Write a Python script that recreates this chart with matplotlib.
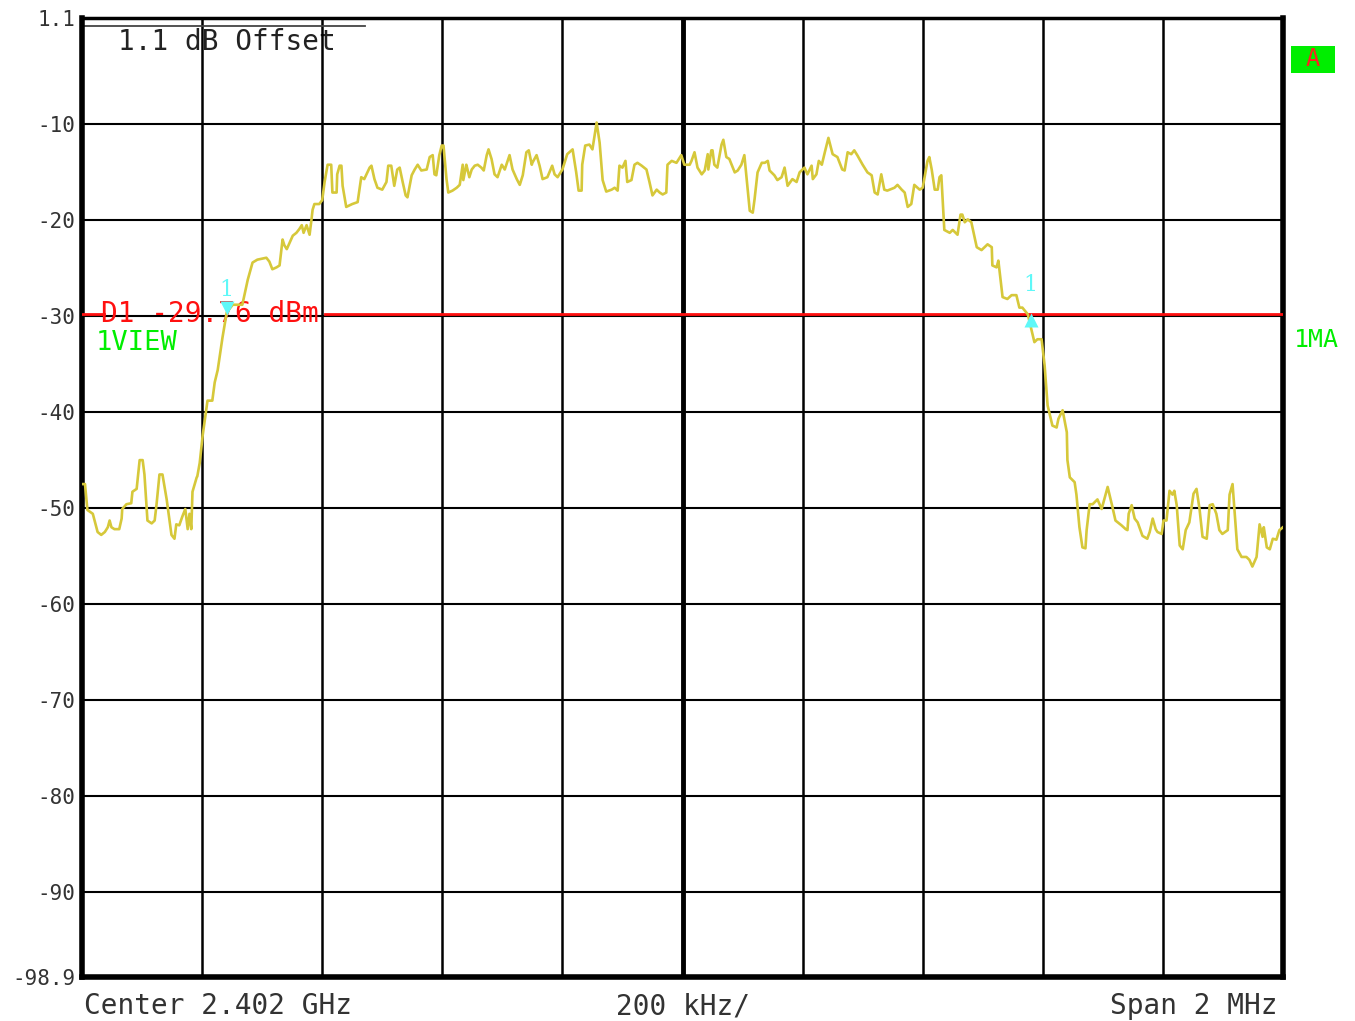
import matplotlib
matplotlib.use("Agg")
import matplotlib.pyplot as plt
from matplotlib.patches import Rectangle

# Spectrum trace: offset from center (kHz) and level (dBm)
freq_khz = [
    -999, -995, -991, -982, -974, -968, -962, -957, -954, -951, -946, -938, -934, -933,
    -926, -918, -916, -909, -904, -899, -896, -891, -884, -879, -876, -871, -866, -859,
    -851, -846, -843, -838, -833, -828, -824, -821, -818, -816, -809, -808, -804, -799,
    -793, -791, -783, -779, -774, -766, -759, -749, -733, -724, -716, -708, -693, -688,
    -683, -676, -671, -666, -663, -659, -654, -649, -643, -638, -634, -631, -626, -621,
    -618, -616, -613, -605, -600, -596, -591, -585, -583, -576, -575, -571, -568, -566,
    -560, -550, -541, -535, -530, -521, -518, -513, -508, -500, -493, -490, -485, -480,
    -475, -471, -466, -461, -458, -451, -446, -441, -435, -426, -421, -416, -413, -410,
    -405, -401, -398, -393, -390, -383, -376, -371, -366, -365, -360, -358, -355, -351,
    -346, -341, -335, -331, -326, -323, -318, -313, -308, -301, -296, -288, -283, -276,
    -271, -266, -260, -256, -251, -250, -243, -238, -233, -225, -217, -213, -208, -200,
    -192, -183, -177, -173, -168, -167, -162, -155, -150, -143, -138, -133, -127, -118,
    -113, -108, -105, -100, -95, -92, -85, -80, -75, -68, -60, -55, -50, -43, -38, -33,
    -27, -25, -18, -10, -2, 3, 12, 15, 20, 25, 32, 37, 42, 43, 48, 50, 53, 58, 65, 68,
    73, 78, 87, 92, 98, 103, 112, 117, 120, 125, 132, 137, 142, 145, 153, 158, 165, 170,
    175, 183, 190, 195, 203, 208, 215, 217, 223, 227, 232, 237, 243, 250, 258, 266, 270,
    275, 281, 286, 291, 300, 308, 315, 320, 325, 331, 336, 341, 353, 358, 365, 370, 375,
    381, 386, 395, 400, 408, 411, 415, 420, 425, 428, 431, 436, 445, 450, 458, 463, 466,
    470, 475, 481, 490, 498, 508, 515, 516, 523, 526, 533, 541, 548, 556, 561, 566, 575,
    581, 586, 591, 598, 603, 608, 616, 623, 626, 633, 640, 641, 645, 653, 656, 661, 666,
    671, 673, 678, 683, 691, 698, 708, 716, 721, 731, 738, 741, 743, 748, 753, 758, 766,
    774, 778, 783, 788, 791, 798, 801, 806, 811, 816, 819, 823, 828, 833, 838, 844, 851,
    856, 861, 866, 873, 878, 883, 889, 894, 899, 908, 911, 916, 924, 931, 939, 944, 949,
    956, 961, 966, 968, 973, 978, 983, 989, 994, 1000,
]
level_dbm = [
    -47.5, -47.5, -50.2, -50.6, -52.5, -52.8, -52.5, -52.0, -51.3, -52.0, -52.2, -52.2, -51.1, -50.1,
    -49.6, -49.5, -48.3, -48.0, -45.0, -45.0, -46.5, -51.3, -51.6, -51.3, -49.7, -46.5, -46.5, -49.1,
    -52.8, -53.2, -51.7, -51.8, -50.9, -50.1, -52.2, -50.6, -52.2, -48.3, -46.8, -46.7, -45.3, -42.4,
    -39.7, -38.8, -38.8, -36.9, -35.6, -32.2, -29.6, -28.8, -28.8, -26.2, -24.4, -24.1, -23.9, -24.3,
    -25.1, -24.9, -24.7, -22.0, -22.6, -23.0, -22.3, -21.6, -21.3, -20.9, -20.5, -21.3, -20.5, -21.5,
    -20.0, -18.9, -18.3, -18.3, -17.9, -16.0, -14.2, -14.2, -17.1, -17.1, -15.2, -14.3, -14.3, -16.4,
    -18.6, -18.3, -18.1, -15.5, -15.7, -14.5, -14.3, -15.7, -16.6, -16.8, -16.0, -14.3, -14.3, -16.4,
    -14.7, -14.5, -16.0, -17.4, -17.6, -15.3, -14.7, -14.2, -14.8, -14.7, -13.4, -13.2, -15.2, -15.3,
    -13.2, -12.2, -12.2, -15.7, -17.1, -16.9, -16.6, -16.3, -14.2, -15.8, -14.2, -14.7, -15.5, -14.7,
    -14.3, -14.2, -14.5, -14.8, -13.2, -12.6, -13.6, -15.2, -15.5, -14.2, -14.7, -13.2, -14.7, -15.7,
    -16.3, -15.3, -12.9, -12.7, -14.2, -14.0, -13.2, -14.3, -15.7, -15.5, -14.3, -15.2, -15.5, -14.7,
    -13.1, -12.6, -15.0, -16.9, -16.9, -14.2, -12.2, -12.1, -12.6, -9.8, -11.9, -15.8, -17.0, -16.8,
    -16.6, -16.9, -14.3, -14.5, -13.8, -16.0, -15.8, -14.2, -14.0, -14.3, -14.7, -16.0, -17.4, -16.8, -17.1, -17.3,
    -17.1, -14.2, -13.8, -14.0, -13.2, -14.2, -14.2, -13.8, -12.9, -14.5, -15.2, -14.8, -13.1, -14.7, -12.7, -12.7, -14.2, -14.5, -12.1, -11.6,
    -13.4, -13.6, -15.0, -14.8, -14.2, -13.2, -19.0, -19.2, -17.8, -15.0, -14.0, -14.0, -13.8, -14.8, -15.3, -15.8, -15.5, -14.5,
    -16.4, -15.7, -16.0, -15.0, -14.5, -15.2, -14.3, -15.7, -15.2, -13.8, -14.2, -12.9, -11.4, -13.1, -13.4, -14.7, -14.8,
    -12.9, -13.1, -12.7, -13.2, -14.2, -15.0, -15.3, -17.1, -17.3, -15.2, -16.8, -16.9, -16.6, -16.3, -16.8, -17.1, -18.6,
    -18.3, -16.3, -16.8, -16.6, -13.8, -13.4, -14.7, -16.8, -16.8, -15.5, -15.3, -21.0, -21.3, -21.0, -21.5, -19.4, -19.4,
    -20.2, -19.9, -20.2, -22.8, -23.1, -22.5, -22.8, -24.7, -24.9, -24.2, -28.0, -28.2, -27.8, -27.8, -29.1, -29.1, -29.8,
    -31.4, -32.7, -32.4, -32.4, -35.1, -39.3, -41.4, -41.6, -40.7, -39.8, -42.1, -45.0, -46.8, -47.3, -48.6, -52.0, -54.1,
    -54.2, -52.3, -49.6, -49.6, -49.1, -50.1, -47.8, -49.9, -51.3, -51.8, -52.2, -52.3, -50.6, -49.7, -51.1, -51.5, -52.9,
    -53.2, -52.5, -51.1, -52.2, -52.5, -52.7, -51.3, -51.3, -48.2, -48.6, -48.2, -49.7, -53.9, -54.3, -52.3, -51.5, -48.5,
    -48.0, -50.1, -53.0, -53.2, -49.7, -49.6, -50.6, -52.3, -52.7, -52.3, -48.6, -47.5, -54.3, -55.1, -55.1, -55.4, -56.1,
    -55.1, -51.7, -53.0, -52.0, -54.1, -54.3, -53.2, -53.3, -52.3, -52.0,
]

ref_level = 1.1
bottom_level = -98.9
grid_levels = [0 - 10 * k for k in range(1, 10)]
grid_freqs = [-1000 + 200 * k for k in range(1, 10)]
ytick_values = [1.1, -10, -20, -30, -40, -50, -60, -70, -80, -90, -98.9]
ytick_labels = ["1.1", "-10", "-20", "-30", "-40", "-50", "-60", "-70", "-80", "-90", "-98.9"]

display_line = -29.76
marker_freqs = [-759, 580]
marker_levels = [-29.76, -29.76]

mono = "DejaVu Sans Mono"
trace_col = "#d6c83a"
cyan = "#5ff8f8"
green = "#00ee00"

fig = plt.figure(figsize=(13.55, 10.21), dpi=100)
ax = fig.add_axes([82 / 1355, 44 / 1021, 1201 / 1355, 959 / 1021])
ax.set_xlim(-1000, 1000)
ax.set_ylim(bottom_level, ref_level)

# graticule
for g in grid_levels:
    ax.axhline(g, color="black", lw=1.5, zorder=1)
for g in grid_freqs:
    ax.axvline(g, color="black", lw=3.5 if g == 0 else 1.8, zorder=1)
ax.axhline(0.3, xmin=0.002, xmax=0.236, color="#444444", lw=1.3, zorder=1)

for side in ["left", "right", "bottom"]:
    ax.spines[side].set_linewidth(4)
ax.spines["top"].set_linewidth(2.5)

ax.set_xticks([])
ax.set_yticks(ytick_values)
ax.set_yticklabels(ytick_labels, family=mono, fontsize=15, color="#333333")
ax.tick_params(axis="y", length=0, pad=5)

# display line D1, broken by its label
ax.axhline(display_line, xmin=0, xmax=0.018, color="#ff1010", lw=2, zorder=3)
ax.axhline(display_line, xmin=0.202, xmax=1, color="#ff1010", lw=2, zorder=3)
ax.text(-968, display_line, "D1 -29.76 dBm", color="#ff1010", family=mono,
        fontsize=20, va="center", ha="left", zorder=4)

# trace
ax.plot(freq_khz, level_dbm, color=trace_col, lw=1.9, zorder=5)

# markers
ax.plot(marker_freqs[0], marker_levels[0] + 0.6, marker="v", color=cyan, ms=10, mec="none", zorder=6)
ax.plot(marker_freqs[1], marker_levels[1] - 0.6, marker="^", color=cyan, ms=10, mec="none", zorder=6)
for f, lv, dy in zip(marker_freqs, marker_levels, [2.5, 3.0]):
    ax.text(f, lv + dy, "1", color=cyan, family="DejaVu Serif", fontsize=16,
            ha="center", va="center", zorder=6)

# annotations
ax.text(-940, -1.4, "1.1 dB Offset", family=mono, fontsize=20, color="#222222",
        va="center", ha="left", zorder=0.5)
ax.text(-978, -32.8, "1VIEW", family=mono, fontsize=19.5, color=green, va="center", ha="left")

fig.text(1294 / 1355, 1 - 340 / 1021, "1MA", family=mono, fontsize=18, color=green,
         va="center", ha="left")
fig.patches.append(Rectangle((1291 / 1355, 1 - 73 / 1021), 44 / 1355, 27 / 1021,
                             transform=fig.transFigure, fc="#00ee00", ec="none"))
fig.text(1313 / 1355, 1 - 59 / 1021, "A", family=mono, fontsize=17, color="#ff2020",
         va="center", ha="center")

fig.text(84 / 1355, 1 - 1006 / 1021, "Center 2.402 GHz", family=mono, fontsize=20,
         color="#333333", va="center", ha="left")
fig.text(683 / 1355, 1 - 1006 / 1021, "200 kHz/", family=mono, fontsize=20,
         color="#333333", va="center", ha="center")
fig.text(1277 / 1355, 1 - 1006 / 1021, "Span 2 MHz", family=mono, fontsize=20,
         color="#333333", va="center", ha="right")

fig.savefig("out.png", dpi=100)
